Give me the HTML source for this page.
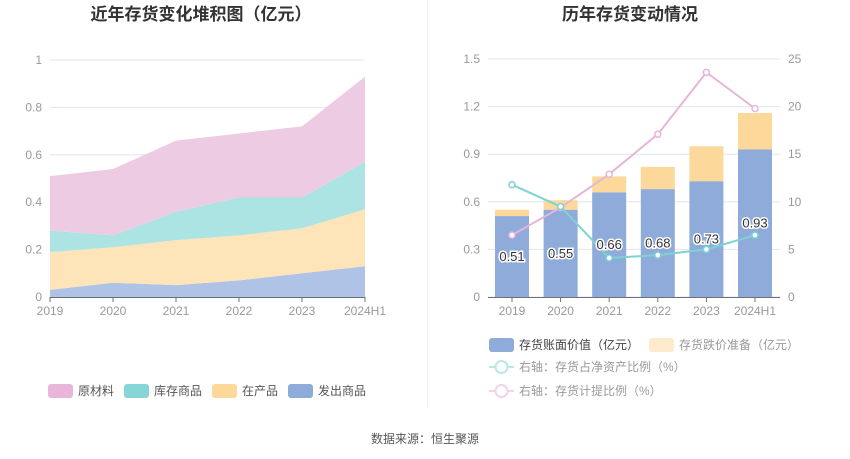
<!DOCTYPE html>
<html><head><meta charset="utf-8"><style>
html,body{margin:0;padding:0;background:#fff;width:850px;height:459px;overflow:hidden}
svg{display:block;font-family:"Liberation Sans","Noto Sans CJK SC",sans-serif}
</style></head><body>
<svg id="c" width="850" height="459">
<text x="201" y="20" text-anchor="middle" font-size="17" font-weight="bold" fill="#333">近年存货变化堆积图（亿元）</text>
<text x="630" y="20" text-anchor="middle" font-size="17" font-weight="bold" fill="#333">历年存货变动情况</text>
<line x1="427.5" y1="0" x2="427.5" y2="408" stroke="#eee"/>
<text x="425" y="443" text-anchor="middle" font-size="12" fill="#555">数据来源：恒生聚源</text>
<g id="left"></g><g id="right"></g>
</svg>
<script>
const categories=['2019','2020','2021','2022','2023','2024H1'];
const faChu=[0.03,0.06,0.05,0.07,0.10,0.13];
const zaiChan=[0.16,0.15,0.19,0.19,0.19,0.24];
const kuCun=[0.09,0.05,0.12,0.16,0.13,0.20];
const yuanCai=[0.23,0.28,0.30,0.27,0.30,0.36];
const leftTicks=[0,0.2,0.4,0.6,0.8,1];
const bookValue=[0.51,0.55,0.66,0.68,0.73,0.93];
const reserve=[0.04,0.06,0.10,0.14,0.22,0.23];
const netAssetRatio=[11.8,9.5,4.1,4.4,5.0,6.5];
const provisionRatio=[6.5,9.4,12.9,17.1,23.6,19.8];
const rightTicksL=[0,0.3,0.6,0.9,1.2,1.5];
const rightTicksR=[0,5,10,15,20,25];

const NS='http://www.w3.org/2000/svg';
function mk(p,t,a,txt){const e=document.createElementNS(NS,t);for(const k in a)e.setAttribute(k,a[k]);if(txt!=null)e.textContent=txt;p.appendChild(e);return e;}
// LEFT
const L=document.getElementById('left');
const lx=i=>50+i*63, ly=v=>297-v*237;
leftTicks.forEach(t=>{
 const g=mk(L,'line',{x1:50,x2:365,y1:ly(t),y2:ly(t),stroke:'#e0e6f1'});
 
 const tx=mk(L,'text',{x:42,y:ly(t)+4,'text-anchor':'end','font-size':12,fill:'#999'},String(t));
 
});
const series=[[faChu,'#aec3e6','shipped-goods-area'],[zaiChan,'#fde4b9','wip-area'],[kuCun,'#ace3e3','finished-goods-area'],[yuanCai,'#edcce3','raw-material-area']];
let base=categories.map(()=>0);
series.forEach(([d,c,n])=>{
 const top=base.map((b,i)=>b+d[i]);
 let pts=top.map((v,i)=>lx(i)+','+ly(v));
 for(let i=categories.length-1;i>=0;i--)pts.push(lx(i)+','+ly(base[i]));
 const p=mk(L,'polygon',{points:pts.join(' '),fill:c});
 
 base=top;
});
mk(L,'line',{x1:50,x2:365,y1:297.5,y2:297.5,stroke:'#6e7079'});
categories.forEach((c,i)=>{
 mk(L,'line',{x1:lx(i),x2:lx(i),y1:297,y2:302,stroke:'#6e7079'});
 const t=mk(L,'text',{x:lx(i),y:315,'text-anchor':'middle','font-size':12,fill:'#999'},c);
 
});
[['原材料','#e8b6d8',48],['库存商品','#86d6d8',124],['在产品','#fdd89b',212],['发出商品','#8eabd9',288]].forEach(([n,c,x])=>{
 const g=mk(L,'g',{});
 
 mk(g,'rect',{x:x,y:384,width:25,height:14,rx:3,fill:c});
 mk(g,'text',{x:x+30,y:395,'font-size':12,fill:'#555'},n);
});
// RIGHT
const R=document.getElementById('right');
const rx=i=>512+i*48.6, ryL=v=>297-v/1.5*238, ryR=v=>297-v/25*238;
rightTicksL.forEach((t,k)=>{
 const g=mk(R,'line',{x1:488,x2:780,y1:ryL(t),y2:ryL(t),stroke:'#e0e6f1'});
 
 const a=mk(R,'text',{x:480,y:ryL(t)+4,'text-anchor':'end','font-size':12,fill:'#999'},String(t));
 
 const b=mk(R,'text',{x:788,y:ryR(rightTicksR[k])+4,'font-size':12,fill:'#999'},String(rightTicksR[k]));
 
});
categories.forEach((c,i)=>{
 const b=mk(R,'rect',{x:rx(i)-17,y:ryL(bookValue[i]),width:34,height:297-ryL(bookValue[i]),fill:'#8eabd9'});
 
 const r=mk(R,'rect',{x:rx(i)-17,y:ryL(bookValue[i]+reserve[i]),width:34,height:ryL(bookValue[i])-ryL(bookValue[i]+reserve[i]),fill:'#fdd89b'});
 
});
mk(R,'line',{x1:488,x2:780,y1:297.5,y2:297.5,stroke:'#6e7079'});
categories.forEach((c,i)=>{
 mk(R,'line',{x1:rx(i),x2:rx(i),y1:297,y2:302,stroke:'#6e7079'});
 const t=mk(R,'text',{x:rx(i),y:315,'text-anchor':'middle','font-size':12,fill:'#999'},c);
 
});
[[provisionRatio,'#e6b6da','provision-ratio-line'],[netAssetRatio,'#7dd3d4','net-asset-ratio-line']].forEach(([d,c,n])=>{
 const pl=mk(R,'polyline',{points:d.map((v,i)=>rx(i)+','+ryR(v)).join(' '),fill:'none',stroke:c,'stroke-width':2});
 
 d.forEach((v,i)=>{const p=mk(R,'circle',{cx:rx(i),cy:ryR(v),r:3,fill:'#fff',stroke:c,'stroke-width':1.5});
  });
});
bookValue.forEach((v,i)=>{
 const y=297-v*80+5;
 const t=mk(R,'text',{x:rx(i),y:y,'text-anchor':'middle','font-size':13,fill:'#333',stroke:'#fff','stroke-width':3,'paint-order':'stroke'},v.toFixed(2));
 
});
let g=mk(R,'g',{});
mk(g,'rect',{x:489,y:338,width:25,height:14,rx:3,fill:'#8eabd9'});
mk(g,'text',{x:519,y:349,'font-size':12,fill:'#444'},'存货账面价值（亿元）');
g=mk(R,'g',{});
mk(g,'rect',{x:649,y:338,width:25,height:14,rx:3,fill:'#feebcd'});
mk(g,'text',{x:679,y:349,'font-size':12,fill:'#999'},'存货跌价准备（亿元）');
[['右轴：存货占净资产比例（%）','#b8e8e8',367,'legend-net-asset-ratio'],['右轴：存货计提比例（%）','#f2d3ea',391,'legend-provision-ratio']].forEach(([n,c,y,nm])=>{
 const gg=mk(R,'g',{});
 mk(gg,'line',{x1:489,x2:514,y1:y,y2:y,stroke:c,'stroke-width':2});
 mk(gg,'circle',{cx:501.5,cy:y,r:6,fill:'#fff',stroke:c,'stroke-width':2});
 mk(gg,'text',{x:519,y:y+4,'font-size':12,fill:'#999'},n);
});
</script>
</body></html>
